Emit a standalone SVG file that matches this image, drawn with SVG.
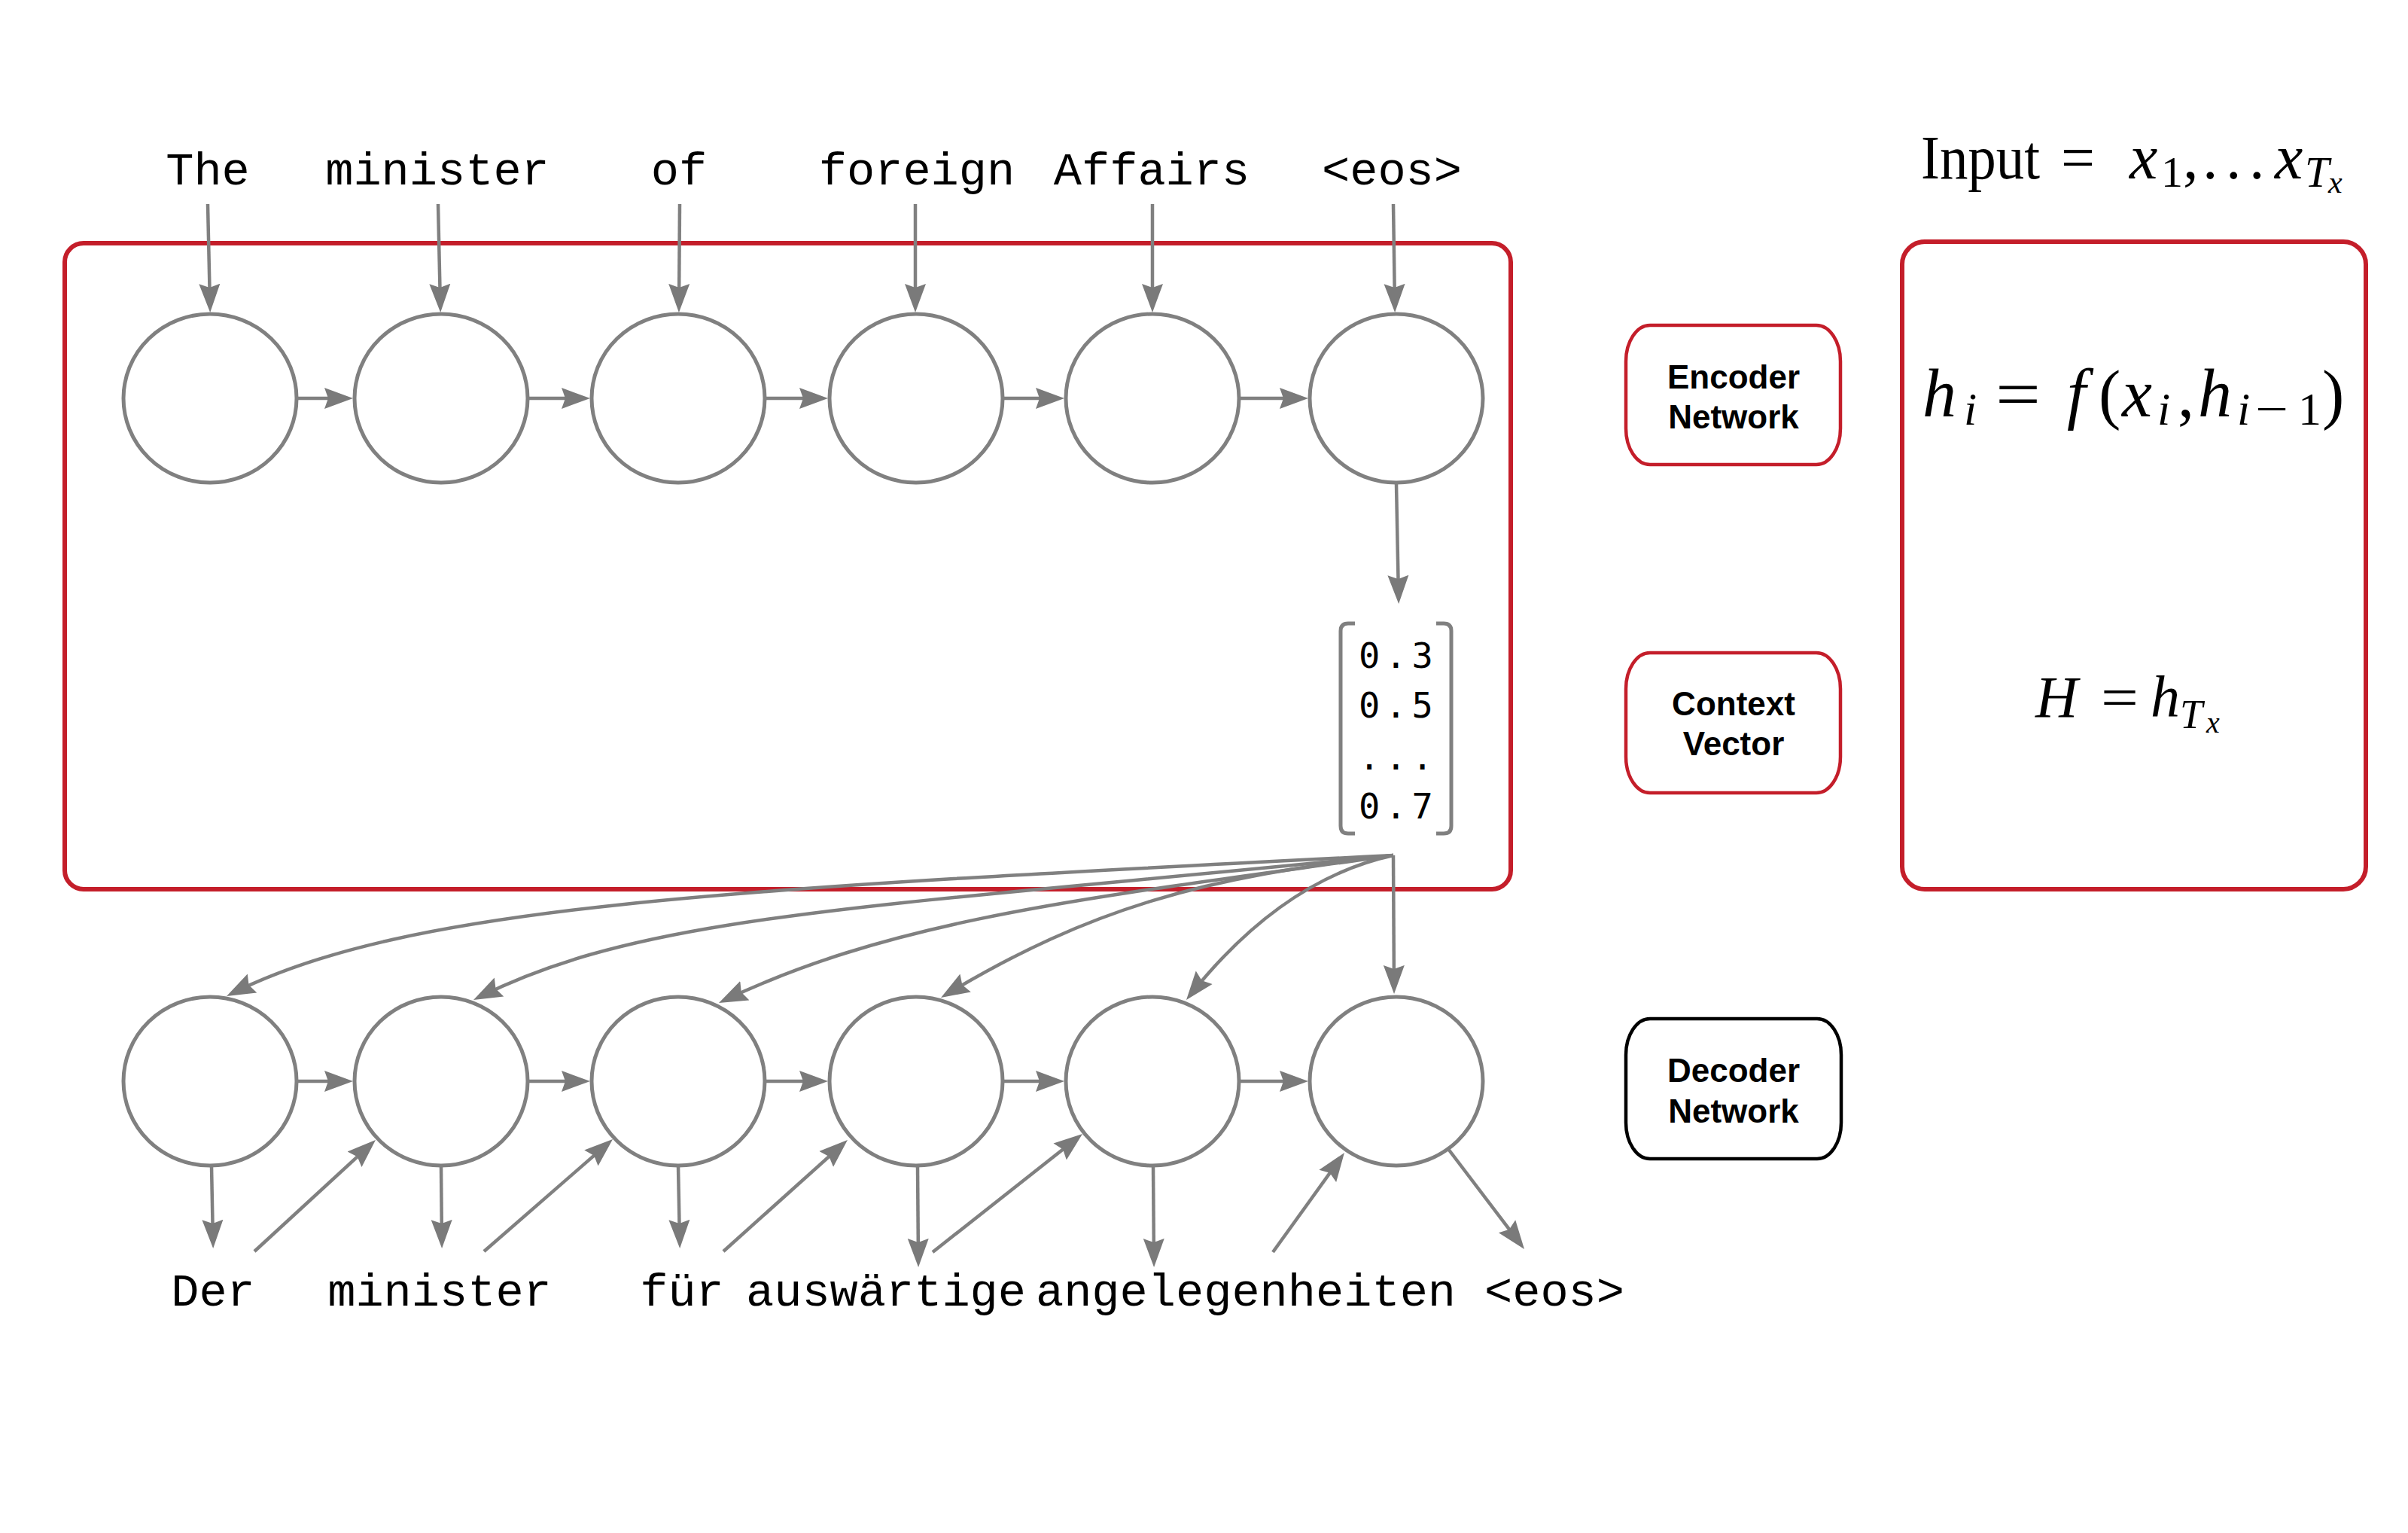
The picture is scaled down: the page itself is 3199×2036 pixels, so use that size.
<svg xmlns="http://www.w3.org/2000/svg" width="3199" height="2036" viewBox="0 0 3199 2036">
<style>
.word{font-family:"Liberation Mono",monospace;font-size:62px;fill:#000;text-anchor:middle}
.num{font-family:"DejaVu Sans Mono",monospace;font-size:47px;fill:#000;letter-spacing:7px}
.lbl{font-family:"Liberation Sans",Arial,sans-serif;font-size:44px;font-weight:bold;fill:#000;text-anchor:middle}
.cell{fill:#fff;stroke:#808080;stroke-width:5}
.conn{fill:none;stroke:#808080;stroke-width:4.5;marker-end:url(#ah)}
.redbox{fill:none;stroke:#c41e2a;stroke-width:6}
.m{font-family:"Liberation Serif","Times New Roman",serif;fill:#000}
.mi{font-family:"Liberation Serif","Times New Roman",serif;font-style:italic;fill:#000}
</style>
<defs>
<marker id="ah" markerUnits="userSpaceOnUse" markerWidth="40" markerHeight="30" viewBox="0 0 40 30" refX="30" refY="15" orient="auto">
<path d="M0,1 L38,15 L0,29 L5,15 Z" fill="#7a7a7a"/>
</marker>
</defs>
<rect width="3199" height="2036" fill="#fff"/>

<g id="encoder-frame">
<rect class="redbox" x="86" y="323" width="1921" height="858" rx="25" ry="25"/>
</g>
<g id="equation-frame">
<rect class="redbox" x="2527" y="321" width="616" height="860" rx="30" ry="30"/>
</g>

<g id="connectors">
<path class="conn" d="M276,271 L279,407"/>
<path class="conn" d="M582,271 L585,407"/>
<path class="conn" d="M903,271 L902,407"/>
<path class="conn" d="M1216,271 L1216,407"/>
<path class="conn" d="M1531,271 L1531,407"/>
<path class="conn" d="M1851,271 L1853,407"/>
<path class="conn" d="M396,529 L461,529"/>
<path class="conn" d="M703,529 L776,529"/>
<path class="conn" d="M1018,529 L1092,529"/>
<path class="conn" d="M1334,529 L1406,529"/>
<path class="conn" d="M1648,529 L1730,529"/>
<path class="conn" d="M1855,643 L1858,794"/>
<path class="conn" d="M1851,1136 C951,1181 541,1203 308.2,1319.4"/>
<path class="conn" d="M1851,1136 C1151,1206 859,1213 636.2,1324.4"/>
<path class="conn" d="M1851,1136 C1451,1192 1195,1218 962.2,1328.6"/>
<path class="conn" d="M1851,1136 C1600,1165 1450,1205 1256.9,1320.9"/>
<path class="conn" d="M1851,1136 C1740,1160 1650,1235 1581,1321.7"/>
<path class="conn" d="M1851,1136 L1852,1312"/>
<path class="conn" d="M396,1436 L461,1436"/>
<path class="conn" d="M703,1436 L776,1436"/>
<path class="conn" d="M1018,1436 L1092,1436"/>
<path class="conn" d="M1334,1436 L1406,1436"/>
<path class="conn" d="M1648,1436 L1730,1436"/>
<path class="conn" d="M281,1549 L283,1650"/>
<path class="conn" d="M586,1549 L587,1650"/>
<path class="conn" d="M901,1549 L903,1650"/>
<path class="conn" d="M1219,1549 L1220,1675"/>
<path class="conn" d="M1532,1549 L1533,1675"/>
<path class="conn" d="M1924,1526 L2020.2,1652.6"/>
<path class="conn" d="M338,1662 L493.1,1519.4"/>
<path class="conn" d="M643,1662 L808,1518.3"/>
<path class="conn" d="M961,1662 L1120,1519.3"/>
<path class="conn" d="M1239,1663 L1431.7,1511"/>
<path class="conn" d="M1691,1663 L1781.3,1537.5"/>
</g>

<g id="encoder-cells">
<ellipse id="enc1" class="cell" cx="279" cy="529" rx="115" ry="112"/>
<ellipse id="enc2" class="cell" cx="586" cy="529" rx="115" ry="112"/>
<ellipse id="enc3" class="cell" cx="901" cy="529" rx="115" ry="112"/>
<ellipse id="enc4" class="cell" cx="1217" cy="529" rx="115" ry="112"/>
<ellipse id="enc5" class="cell" cx="1531" cy="529" rx="115" ry="112"/>
<ellipse id="enc6" class="cell" cx="1855" cy="529" rx="115" ry="112"/>
</g>
<g id="decoder-cells">
<ellipse id="dec1" class="cell" cx="279" cy="1436" rx="115" ry="112"/>
<ellipse id="dec2" class="cell" cx="586" cy="1436" rx="115" ry="112"/>
<ellipse id="dec3" class="cell" cx="901" cy="1436" rx="115" ry="112"/>
<ellipse id="dec4" class="cell" cx="1217" cy="1436" rx="115" ry="112"/>
<ellipse id="dec5" class="cell" cx="1531" cy="1436" rx="115" ry="112"/>
<ellipse id="dec6" class="cell" cx="1855" cy="1436" rx="115" ry="112"/>
</g>

<g id="input-words">
<text class="word" x="276" y="245">The</text>
<text class="word" x="581" y="245">minister</text>
<text class="word" x="902" y="245">of</text>
<text class="word" x="1218" y="245">foreign</text>
<text class="word" x="1530" y="245">Affairs</text>
<text class="word" x="1849" y="245">&lt;eos&gt;</text>
</g>
<g id="output-words">
<text class="word" x="283" y="1734">Der</text>
<text class="word" x="584" y="1734">minister</text>
<text class="word" x="906" y="1734">für</text>
<text class="word" x="1177" y="1734">auswärtige</text>
<text class="word" x="1655" y="1734">angelegenheiten</text>
<text class="word" x="2065" y="1734">&lt;eos&gt;</text>
</g>

<g id="context-vector">
<path d="M1800,828 L1791,828 Q1781,828 1781,838 L1781,1097 Q1781,1107 1791,1107 L1800,1107" fill="none" stroke="#808080" stroke-width="5"/>
<path d="M1908,828 L1918,828 Q1928,828 1928,838 L1928,1097 Q1928,1107 1918,1107 L1908,1107" fill="none" stroke="#808080" stroke-width="5"/>
<text class="num" x="1805" y="887">0.3</text>
<text class="num" x="1805" y="953">0.5</text>
<text class="num" x="1805" y="1022">...</text>
<text class="num" x="1805" y="1087">0.7</text>
</g>

<g id="encoder-label">
<rect x="2160" y="432" width="285" height="185" rx="32" ry="48" fill="#fff" stroke="#c41e2a" stroke-width="4.5"/>
<text class="lbl" x="2303" y="516">Encoder</text>
<text class="lbl" x="2303" y="569">Network</text>
</g>
<g id="context-label">
<rect x="2160" y="867" width="285" height="186" rx="32" ry="48" fill="#fff" stroke="#c41e2a" stroke-width="4.5"/>
<text class="lbl" x="2303" y="950">Context</text>
<text class="lbl" x="2303" y="1003">Vector</text>
</g>
<g id="decoder-label">
<rect x="2160" y="1353" width="286" height="186" rx="32" ry="48" fill="#fff" stroke="#000" stroke-width="4.5"/>
<text class="lbl" x="2303" y="1437">Decoder</text>
<text class="lbl" x="2303" y="1491">Network</text>
</g>

<g id="input-formula">
<text class="m" x="2552" y="237" font-size="82" textLength="158" lengthAdjust="spacingAndGlyphs">Input</text>
<text class="m" x="2738" y="237" font-size="82" textLength="45" lengthAdjust="spacingAndGlyphs">=</text>
<text class="mi" x="2829" y="237" font-size="84">x</text>
<text class="m" x="2871" y="248" font-size="58">1</text>
<text class="m" x="2900" y="237" font-size="82">,</text>
<text class="m" x="2926" y="237" font-size="82">.</text>
<text class="m" x="2957" y="237" font-size="82">.</text>
<text class="m" x="2988" y="237" font-size="82">.</text>
<text class="mi" x="3022" y="237" font-size="84">x</text>
<text class="mi" x="3062" y="248" font-size="58">T</text>
<text class="mi" x="3093" y="256" font-size="42">x</text>
</g>

<g id="recurrence-formula">
<text class="mi" x="2554" y="553" font-size="90">h</text>
<text class="mi" x="2609" y="564" font-size="62">i</text>
<text class="m" x="2651" y="553" font-size="88" textLength="60" lengthAdjust="spacingAndGlyphs">=</text>
<text class="mi" x="2746" y="553" font-size="90">f</text>
<text class="m" x="2788" y="553" font-size="88">(</text>
<text class="mi" x="2819" y="553" font-size="90">x</text>
<text class="mi" x="2866" y="564" font-size="62">i</text>
<text class="m" x="2893" y="553" font-size="88">,</text>
<text class="mi" x="2920" y="553" font-size="90">h</text>
<text class="mi" x="2972" y="564" font-size="62">i</text>
<text class="m" x="2996" y="564" font-size="62" textLength="44" lengthAdjust="spacingAndGlyphs">−</text>
<text class="m" x="3053" y="564" font-size="62">1</text>
<text class="m" x="3085" y="553" font-size="88">)</text>
</g>

<g id="context-formula">
<text class="mi" x="2704" y="952" font-size="78">H</text>
<text class="m" x="2791" y="952" font-size="76" textLength="50" lengthAdjust="spacingAndGlyphs">=</text>
<text class="mi" x="2857" y="952" font-size="78">h</text>
<text class="mi" x="2896" y="967" font-size="54">T</text>
<text class="mi" x="2931" y="973" font-size="40">x</text>
</g>
</svg>
